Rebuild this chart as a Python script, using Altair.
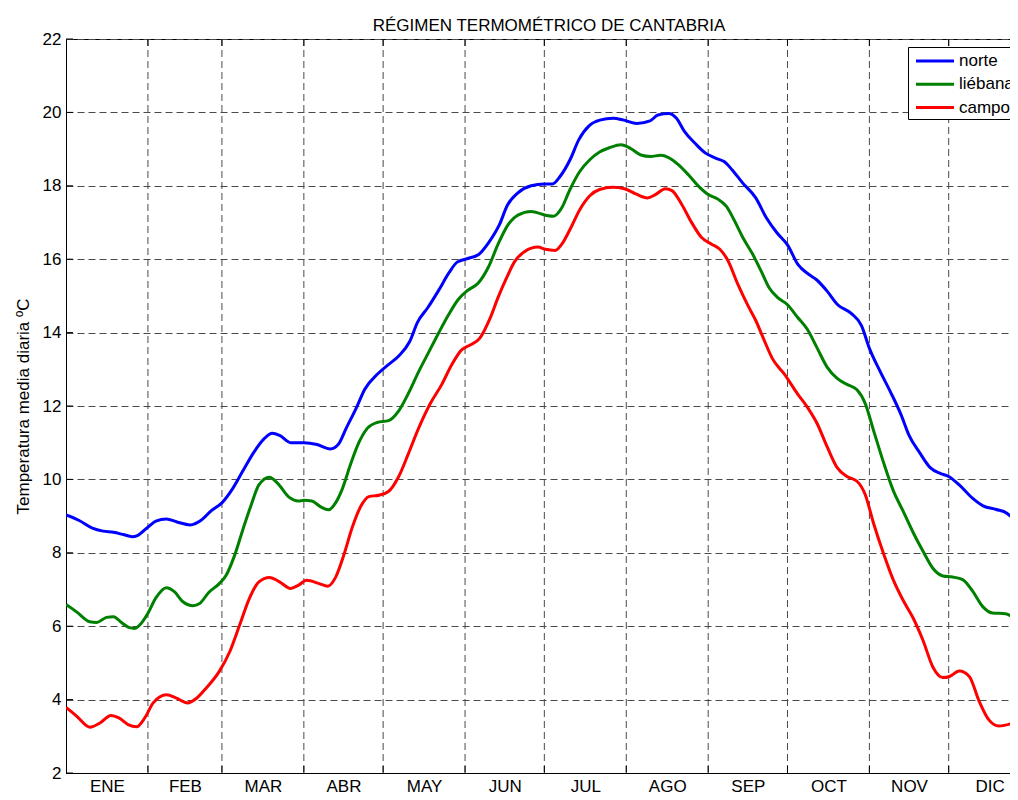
import altair as alt
import pandas as pd

title_text = "RÉGIMEN TERMOMÉTRICO DE CANTABRIA"
y_title = "Temperatura media diaria ºC"
series_names = ["norte", "liébana", "campoo"]
series_colors = ["#0000ff", "#008000", "#ff0000"]
month_names = ["ENE", "FEB", "MAR", "ABR", "MAY", "JUN", "JUL", "AGO", "SEP", "OCT", "NOV", "DIC"]
month_starts = [1, 32, 60, 91, 121, 152, 182, 213, 244, 274, 305, 335, 366]
y_ticks = [2, 4, 6, 8, 10, 12, 14, 16, 18, 20, 22]

norte_day = [1, 6, 11, 15, 19, 23, 26, 28, 32, 35,
             39, 43, 48, 52, 56, 60, 64, 68, 72, 76,
             79, 82, 86, 91, 96, 101, 104, 107, 111, 114,
             119, 123, 127, 131, 134, 138, 142, 146, 149, 153,
             157, 161, 165, 168, 172, 177, 182, 185, 188, 192,
             195, 199, 203, 208, 212, 217, 222, 225, 229, 232,
             235, 239, 243, 247, 250, 253, 257, 262, 266, 270,
             274, 278, 282, 285, 289, 293, 298, 302, 305, 309,
             313, 317, 320, 324, 328, 332, 335, 339, 344, 348,
             353, 357, 358.5]
norte_temp = [9.03, 8.88, 8.67, 8.59, 8.56, 8.49, 8.44, 8.47, 8.70, 8.86,
              8.92, 8.84, 8.76, 8.88, 9.15, 9.36, 9.74, 10.24, 10.73, 11.11,
              11.26, 11.19, 11.0, 11.0, 10.95, 10.83, 10.95, 11.39, 11.97, 12.45,
              12.88, 13.13, 13.37, 13.75, 14.28, 14.69, 15.15, 15.64, 15.92, 16.02,
              16.12, 16.46, 16.94, 17.47, 17.81, 18.0, 18.05, 18.05, 18.26, 18.75,
              19.25, 19.64, 19.79, 19.84, 19.79, 19.70, 19.77, 19.93, 19.97, 19.84,
              19.48, 19.16, 18.89, 18.75, 18.66, 18.44, 18.08, 17.67, 17.13, 16.72,
              16.39, 15.85, 15.59, 15.44, 15.13, 14.76, 14.53, 14.19, 13.57, 12.95,
              12.38, 11.76, 11.2, 10.73, 10.32, 10.16, 10.08, 9.85, 9.49, 9.28,
              9.18, 9.08, 8.99]

liebana_day = [1, 5, 10, 12.6, 16.3, 19, 22, 25, 27, 29.5,
               32, 35, 39, 42, 45, 49, 51.6, 55, 59, 61.6,
               64.8, 68, 71, 74, 78, 81, 85.5, 89, 91, 94,
               97.4, 100.3, 103, 105.6, 108.7, 111.8, 115, 118.7, 123, 126.9,
               130.6, 134.4, 138.2, 142, 145.7, 149.5, 153, 157, 160.8, 164.5,
               168.3, 172, 177, 182.4, 185.5, 188.6, 191.7, 195.4, 199.2, 202.9,
               206.7, 211, 214.8, 218.5, 222.2, 226, 229, 232.8, 236.5, 240.3,
               244, 247.8, 250.9, 254, 257.1, 260.8, 264, 267, 270.2, 274,
               277.8, 281.5, 285.3, 289, 292.8, 296.5, 300.3, 303.4, 306.5, 310.3,
               314, 317.8, 321.5, 325.3, 329, 332.8, 336.5, 340.3, 344, 347.8,
               351.5, 356.5, 358.5]
liebana_temp = [6.59, 6.39, 6.12, 6.10, 6.24, 6.26, 6.10, 5.96, 5.94, 6.08,
                6.35, 6.77, 7.05, 6.94, 6.68, 6.56, 6.62, 6.92, 7.16, 7.39,
                7.93, 8.65, 9.29, 9.85, 10.06, 9.90, 9.51, 9.41, 9.43, 9.41,
                9.25, 9.17, 9.36, 9.75, 10.42, 11.0, 11.39, 11.55, 11.6, 11.87,
                12.35, 12.93, 13.46, 13.99, 14.48, 14.91, 15.15, 15.35, 15.78, 16.41,
                16.94, 17.2, 17.3, 17.2, 17.17, 17.4, 17.9, 18.39, 18.71, 18.92,
                19.04, 19.12, 19.01, 18.84, 18.80, 18.83, 18.77, 18.57, 18.30, 17.99,
                17.76, 17.63, 17.44, 17.04, 16.59, 16.14, 15.68, 15.23, 14.96, 14.76,
                14.42, 14.09, 13.57, 13.06, 12.75, 12.59, 12.44, 12.07, 11.35, 10.47,
                9.70, 9.13, 8.56, 8.04, 7.58, 7.37, 7.34, 7.27, 6.96, 6.54,
                6.36, 6.34, 6.28]

campoo_day = [1, 5, 10, 14, 18, 21, 24.5, 27.7, 30.8, 34,
              39, 42.8, 47, 50.3, 54, 59, 63, 66.7, 70.4, 74,
              78, 81.8, 86, 89, 92, 96.8, 100, 103, 106, 109.3,
              112.5, 115.6, 119.4, 123, 126.9, 130.6, 134.4, 138.8, 143.2, 147,
              150.7, 153.9, 157.6, 161.4, 164.5, 167.7, 170.8, 174.6, 179.6, 182.4,
              186.1, 188.6, 191.7, 195.4, 199.2, 202.9, 207.9, 212.3, 216.6, 221,
              224, 227.8, 230.3, 234, 237.8, 241.5, 245.3, 248.4, 251.5, 255.2,
              259, 262, 265.2, 268.3, 272.7, 277.8, 281.5, 285.3, 289, 292.8,
              296.5, 300.3, 303.4, 306.5, 310.3, 314, 317.8, 321.5, 325.3, 329,
              332.8, 335.3, 339, 342.8, 346.5, 350.3, 354, 358.5]
campoo_temp = [3.79, 3.55, 3.25, 3.37, 3.57, 3.50, 3.32, 3.26, 3.50, 3.91,
               4.13, 4.04, 3.91, 4.03, 4.31, 4.77, 5.31, 6.03, 6.76, 7.21,
               7.33, 7.21, 7.03, 7.12, 7.25, 7.16, 7.09, 7.33, 7.91, 8.69,
               9.26, 9.53, 9.57, 9.67, 10.08, 10.71, 11.39, 12.06, 12.59, 13.13,
               13.53, 13.66, 13.85, 14.38, 14.96, 15.49, 15.94, 16.21, 16.33, 16.27,
               16.24, 16.41, 16.81, 17.35, 17.73, 17.90, 17.96, 17.92, 17.78, 17.67,
               17.76, 17.92, 17.87, 17.49, 16.99, 16.59, 16.41, 16.27, 15.96, 15.32,
               14.74, 14.33, 13.79, 13.29, 12.88, 12.33, 11.97, 11.51, 10.89, 10.32,
               10.08, 9.95, 9.59, 8.82, 7.99, 7.27, 6.70, 6.23, 5.61, 4.89,
               4.60, 4.63, 4.78, 4.63, 3.96, 3.44, 3.28, 3.34]

FONT = "Liberation Sans"
W, H = 944, 734
X_DOMAIN = [1, 358.2]

rows = []
for name, days, temps in [("norte", norte_day, norte_temp),
                          ("liébana", liebana_day, liebana_temp),
                          ("campoo", campoo_day, campoo_temp)]:
    for d, t in zip(days, temps):
        rows.append({"dia": d, "temp": t, "zona": name})
df = pd.DataFrame(rows)

month_mid = [(a + b) / 2 for a, b in zip(month_starts[:-1], month_starts[1:])]
label_expr = ("[" + ",".join("'%s'" % m for m in month_names) + "][indexof(["
              + ",".join(str(v) for v in month_mid) + "], datum.value)]")

xscale = alt.Scale(domain=X_DOMAIN, nice=False, zero=False)
yscale = alt.Scale(domain=[2, 22], nice=False, zero=False)

xaxis = alt.Axis(values=month_mid, labelExpr=label_expr, ticks=False, grid=False,
                 title=None, labelFontSize=17, labelFont=FONT, labelPadding=5,
                 labelColor="black", domainColor="black", labelFlush=False,
                 labelOverlap=False)
yaxis = alt.Axis(values=y_ticks, title=y_title, grid=True, gridDash=[7, 4],
                 gridColor="#4a4a4a", gridOpacity=1, ticks=False,
                 labelFontSize=17, labelFont=FONT, labelPadding=5,
                 labelColor="black", titleFontSize=17, titleFont=FONT,
                 titleFontWeight="normal", titleColor="black", titlePadding=10,
                 domainColor="black")

grid_df = pd.DataFrame({"dia": [m for m in month_starts if X_DOMAIN[0] < m < X_DOMAIN[1]]})
ytick_df = pd.DataFrame({"temp": y_ticks})

vgrid = alt.Chart(grid_df).mark_rule(color="#4a4a4a", strokeDash=[7, 4], strokeWidth=1).encode(
    x=alt.X("dia:Q", scale=xscale, axis=xaxis)
)
xt_bottom = alt.Chart(grid_df).mark_rule(color="black", strokeWidth=1).encode(
    x=alt.X("dia:Q", scale=xscale, axis=xaxis), y=alt.value(H), y2=alt.value(H - 7)
)
xt_top = alt.Chart(grid_df).mark_rule(color="black", strokeWidth=1).encode(
    x=alt.X("dia:Q", scale=xscale, axis=xaxis), y=alt.value(0), y2=alt.value(7)
)
yt = alt.Chart(ytick_df).mark_rule(color="black", strokeWidth=1).encode(
    y=alt.Y("temp:Q", scale=yscale, axis=yaxis), x=alt.value(0), x2=alt.value(7)
)

lines = alt.Chart(df).mark_line(strokeWidth=3, interpolate="monotone", clip=True).encode(
    x=alt.X("dia:Q", scale=xscale, axis=xaxis),
    y=alt.Y("temp:Q", scale=yscale, axis=yaxis),
    color=alt.Color("zona:N", scale=alt.Scale(domain=series_names, range=series_colors),
                    legend=alt.Legend(title=None, orient="none", legendX=842, legendY=8,
                                      padding=3, strokeColor="black", fillColor="white",
                                      symbolType="M-2,0H2", symbolSize=361,
                                      symbolStrokeWidth=3, symbolOffset=13, labelOffset=13,
                                      labelFontSize=17, labelFont=FONT, labelColor="black",
                                      rowPadding=4.3, labelLimit=300)),
    order=alt.Order("dia:Q"),
)

chart = alt.layer(vgrid, xt_bottom, xt_top, yt, lines).properties(
    width=W,
    height=H,
    padding={"left": 58, "top": 31, "right": 0, "bottom": 19},
    autosize=alt.AutoSizeParams(type="none"),
    title=alt.TitleParams(title_text, fontSize=17, font=FONT, fontWeight="normal",
                          color="black", anchor="middle", baseline="alphabetic",
                          offset=10, dy=28, dx=11),
    background="white",
).configure_view(stroke="black", strokeWidth=1)

chart.save("out.html", embed_options={"renderer": "svg", "actions": False})
